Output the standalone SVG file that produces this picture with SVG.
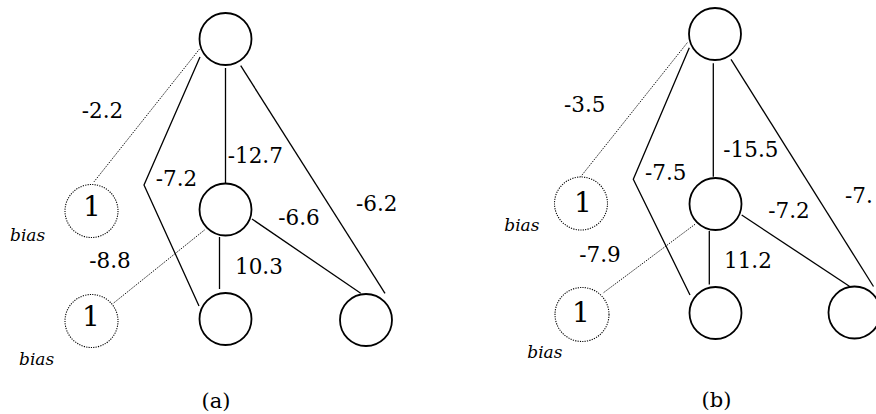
<svg xmlns="http://www.w3.org/2000/svg" width="876" height="414" viewBox="0 0 876 414">
  <style>
    .node { fill: #fff; stroke: #000; stroke-width: 1.8; }
    .bias { fill: #fff; stroke: #000; stroke-width: 1.1; stroke-dasharray: 1.2 1.2; }
    .edge { fill: none; stroke: #000; stroke-width: 1.3; }
    .dot { fill: none; stroke: #000; stroke-width: 1; stroke-dasharray: 1.2 1.2; }
    text { font-family: 'DejaVu Serif', serif; fill: #000; }
    .w { font-size: 21.5px; }
    .one { font-size: 28px; text-anchor: middle; }
    .lbl { font-size: 17px; font-style: italic; }
    .cap { font-size: 21px; text-anchor: middle; }
  </style>
  <rect width="876" height="414" fill="#fff"/>

  <!-- network (a) -->
  <g id="edges-a">
    <line class="edge" x1="225.5" y1="68" x2="225.5" y2="183"/>
    <polyline class="edge" points="200,57 144,185 199,306"/>
    <line class="edge" x1="240.7" y1="65.7" x2="385" y2="293.3"/>
    <line class="edge" x1="219.5" y1="237" x2="219.5" y2="289"/>
    <line class="edge" x1="252" y1="219" x2="360.7" y2="293.3"/>
    <line class="dot" x1="199.3" y1="49.3" x2="93.3" y2="182.7"/>
    <line class="dot" x1="204.5" y1="230" x2="113.3" y2="303.3"/>
  </g>
  <g id="a-top"><circle class="node" cx="225.5" cy="39" r="26"/></g>
  <g id="a-hidden"><circle class="node" cx="225.5" cy="209.5" r="26"/></g>
  <g id="a-out1"><circle class="node" cx="225.5" cy="319" r="26"/></g>
  <g id="a-out2"><circle class="node" cx="366" cy="320" r="26"/></g>
  <g id="a-bias1">
    <circle class="bias" cx="91.5" cy="211" r="26.5"/>
    <text class="one" x="92" y="216">1</text>
    <text class="lbl" x="10" y="241">bias</text>
  </g>
  <g id="a-bias2">
    <circle class="bias" cx="91.5" cy="321" r="26.5"/>
    <text class="one" x="91" y="326">1</text>
    <text class="lbl" x="19" y="365">bias</text>
  </g>
  <g id="a-weights">
    <text class="w" x="81.7" y="118.3">-2.2</text>
    <text class="w" x="227.7" y="163.3">-12.7</text>
    <text class="w" x="155.7" y="186">-7.2</text>
    <text class="w" x="278.3" y="225">-6.6</text>
    <text class="w" x="356" y="210.7">-6.2</text>
    <text class="w" x="89.3" y="268.3">-8.8</text>
    <text class="w" x="235" y="274.3">10.3</text>
  </g>
  <text class="cap" x="216" y="408">(a)</text>

  <!-- network (b) -->
  <g id="edges-b">
    <line class="edge" x1="713.3" y1="63.3" x2="713.3" y2="176.7"/>
    <polyline class="edge" points="689.3,47.7 633.3,179.3 690,295"/>
    <line class="edge" x1="731" y1="59.3" x2="873.5" y2="286.5"/>
    <line class="edge" x1="709.3" y1="231" x2="709.3" y2="284.5"/>
    <line class="edge" x1="741.7" y1="215" x2="850.5" y2="287"/>
    <line class="dot" x1="687.3" y1="42.7" x2="580.7" y2="176.7"/>
    <line class="dot" x1="695" y1="224.3" x2="602.7" y2="293.3"/>
  </g>
  <g id="b-top"><circle class="node" cx="715" cy="34" r="26"/></g>
  <g id="b-hidden"><circle class="node" cx="715.5" cy="204" r="26"/></g>
  <g id="b-out1"><circle class="node" cx="715.5" cy="313" r="26"/></g>
  <g id="b-out2"><circle class="node" cx="854.5" cy="312.5" r="26"/></g>
  <g id="b-bias1">
    <circle class="bias" cx="581" cy="203.5" r="26.5"/>
    <text class="one" x="583" y="211.5">1</text>
    <text class="lbl" x="504.3" y="231">bias</text>
  </g>
  <g id="b-bias2">
    <circle class="bias" cx="582" cy="314.5" r="27"/>
    <text class="one" x="581" y="321.5">1</text>
    <text class="lbl" x="527.3" y="358.3">bias</text>
  </g>
  <g id="b-weights">
    <text class="w" x="564" y="111.7">-3.5</text>
    <text class="w" x="723.3" y="156.7">-15.5</text>
    <text class="w" x="645" y="180">-7.5</text>
    <text class="w" x="768.3" y="218.3">-7.2</text>
    <text class="w" x="845" y="203.3">-7.</text>
    <text class="w" x="579.3" y="261.7">-7.9</text>
    <text class="w" x="724" y="268.3">11.2</text>
  </g>
  <text class="cap" x="716.5" y="406.7">(b)</text>
</svg>
